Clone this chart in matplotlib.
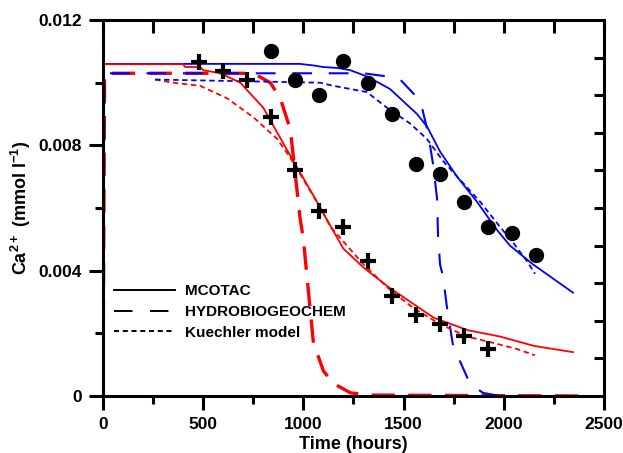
import matplotlib
matplotlib.use('Agg')
import matplotlib.pyplot as plt
from matplotlib.lines import Line2D

plt.rcParams['font.family'] = ['Liberation Sans', 'DejaVu Sans']
plt.rcParams['font.weight'] = 'bold'
plt.rcParams['mathtext.fontset'] = 'custom'
plt.rcParams['mathtext.rm'] = 'Liberation Sans:bold'
plt.rcParams['mathtext.bf'] = 'Liberation Sans:bold'
plt.rcParams['mathtext.default'] = 'bf'

# measured data
circ_t = [840, 960, 1080, 1200, 1320, 1440, 1560, 1680, 1800, 1920, 2040, 2160]
circ_ca = [0.0110, 0.0101, 0.0096, 0.0107, 0.0100, 0.0090, 0.0074, 0.0071,
           0.0062, 0.0054, 0.0052, 0.0045]
plus_t = [480, 600, 720, 840, 960, 1080, 1200, 1320, 1440, 1560, 1680, 1800, 1920]
plus_ca = [0.01066, 0.01037, 0.01008, 0.0089, 0.0072, 0.0059, 0.0054, 0.0043,
           0.0032, 0.0026, 0.0023, 0.0019, 0.0015]

# MCOTAC
red_mc_t = [0, 400, 410, 485, 500, 585, 685, 800, 870, 950, 1050, 1120, 1200,
            1300, 1420, 1535, 1650, 1820, 1980, 2150, 2345]
red_mc_ca = [0.01059, 0.01059, 0.0105, 0.0105, 0.0104, 0.0103, 0.0100, 0.0092,
             0.0084, 0.0075, 0.0064, 0.0056, 0.0047, 0.0041, 0.0035, 0.0030,
             0.0025, 0.0021, 0.0019, 0.0016, 0.0014]
blue_mc_t = [0, 983, 1050, 1100, 1170, 1233, 1317, 1432, 1567, 1617, 1682, 1767,
             1866, 1966, 2031, 2146, 2345]
blue_mc_ca = [0.0106, 0.0106, 0.01055, 0.0105, 0.01047, 0.0104, 0.0102, 0.0098,
              0.0090, 0.0086, 0.0078, 0.0070, 0.0062, 0.0053, 0.0048, 0.0042, 0.0033]

# HYDROBIOGEOCHEM
red_hb_t = [0, 8, 750, 835, 885, 935, 983, 1000, 1050, 1100, 1150, 1235, 1335, 2400]
red_hb_ca = [0, 0.0103, 0.0103, 0.0100, 0.0095, 0.0085, 0.0057, 0.0050, 0.0017,
             0.0008, 0.0004, 0.0001, 0.00003, 0]
blue_hb_t = [0, 8, 1300, 1417, 1483, 1557, 1592, 1622, 1647, 1667, 1672, 1682,
             1697, 1717, 1747, 1782, 1831, 1896, 1981, 2400]
blue_hb_ca = [0, 0.0103, 0.0103, 0.0102, 0.0101, 0.0096, 0.0092, 0.0084, 0.0074,
              0.0063, 0.0051, 0.0042, 0.0038, 0.0028, 0.0016, 0.0011, 0.0004,
              0.0001, 0, 0]

# Kuechler model
red_k_t = [260, 350, 485, 620, 750, 870, 935, 1020, 1085, 1135, 1300, 1430,
           1550, 1680, 1815, 1945, 2065, 2155]
red_k_ca = [0.0101, 0.0100, 0.0099, 0.0095, 0.0089, 0.0082, 0.0076, 0.0067,
            0.0060, 0.0054, 0.0042, 0.0034, 0.0028, 0.0023, 0.0019, 0.0017,
            0.0015, 0.0013]
blue_k_t = [260, 1083, 1150, 1317, 1417, 1532, 1617, 1697, 1782, 1882, 1981,
            2046, 2116, 2156]
blue_k_ca = [0.0101, 0.0100, 0.0099, 0.0097, 0.0092, 0.0087, 0.0082, 0.0075,
             0.0069, 0.0062, 0.0054, 0.0049, 0.0043, 0.0039]

fig = plt.figure(figsize=(6.23, 4.53), dpi=100)
ax = fig.add_axes([0.1653, 0.1258, 0.8042, 0.83])

short_dash = (0, (3, 2))

ax.plot(red_hb_t, red_hb_ca, color='red', lw=2.4, linestyle=(0, (7, 4)))
ax.plot(blue_hb_t, blue_hb_ca, color='blue', lw=1.5, linestyle=(0, (9.5, 8)))
ax.plot(red_k_t, red_k_ca, color='red', lw=1.3, linestyle=short_dash)
ax.plot(blue_k_t, blue_k_ca, color='blue', lw=1.3, linestyle=short_dash)
ax.plot(blue_mc_t, blue_mc_ca, color='blue', lw=1.3)
ax.plot(red_mc_t, red_mc_ca, color='red', lw=1.3)

ax.plot(circ_t, circ_ca, 'o', color='black', markersize=10, clip_on=False)
ax.plot(plus_t, plus_ca, '+', color='black', markersize=11, markeredgewidth=3)

ax.set_xlim(0, 2500)
ax.set_ylim(0, 0.012)
ax.set_xticks([0, 500, 1000, 1500, 2000, 2500])
ax.set_xticks(range(250, 2500, 500), minor=True)
ax.set_yticks([0, 0.004, 0.008, 0.012])
ax.set_yticklabels(['0', '0.004', '0.008', '0.012'])
ax.set_yticks([0.002, 0.006, 0.010], minor=True)
for s in ax.spines.values():
    s.set_linewidth(2.2)
ax.tick_params(which='major', direction='out', length=10, width=2.2,
               labelsize=12.5, pad=5)
ax.tick_params(which='minor', direction='out', length=6, width=2.2)
for lab in ax.get_xticklabels() + ax.get_yticklabels():
    lab.set_fontweight('bold')

top = ax.secondary_xaxis('top')
top.set_xticks(range(0, 2501, 250))
top.tick_params(direction='in', length=9, width=2.2, labeltop=False)
right = ax.secondary_yaxis('right')
right.set_yticks([0.0012 * k for k in range(1, 10)])
right.tick_params(direction='in', length=7, width=2.2, labelright=False)

ax.set_xlabel('Time (hours)', fontsize=13, fontweight='bold', labelpad=3)
ax.set_ylabel('Ca$^{2+}$ (mmol l$^{-1}$)', fontsize=13,
              fontweight='bold', labelpad=4)

handles = [Line2D([], [], color='black', lw=1.4),
           Line2D([], [], color='black', lw=1.4, linestyle=(0, (9.5, 9))),
           Line2D([], [], color='black', lw=1.4, linestyle=(0, (2.6, 1.9)))]
ax.legend(handles, ['MCOTAC', 'HYDROBIOGEOCHEM', 'Kuechler model'],
          loc='lower left', bbox_to_anchor=(-0.005, 0.113), frameon=False,
          prop={'size': 11, 'weight': 'bold'}, handlelength=4.0,
          labelspacing=0.45, handletextpad=0.6)

fig.savefig('out.png', dpi=100)
